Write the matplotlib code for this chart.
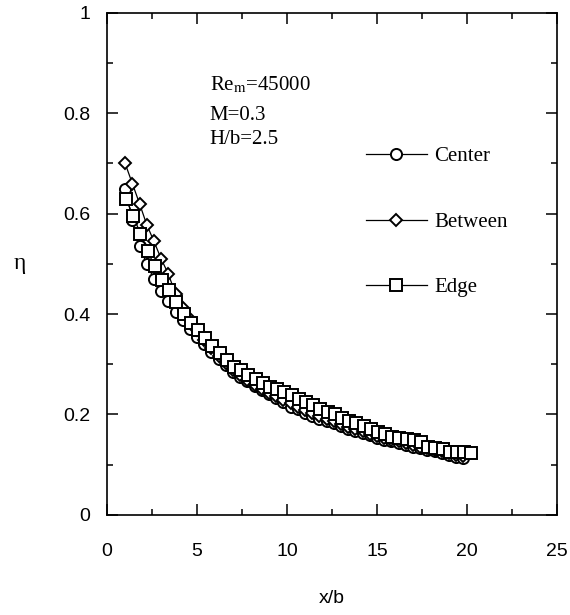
import matplotlib
matplotlib.use("Agg")
import matplotlib.pyplot as plt
from matplotlib.ticker import MultipleLocator

# x/b positions of the measured points
x_cb = [1.0, 1.4, 1.8, 2.2, 2.6, 3.0, 3.4, 3.8, 4.2, 4.6, 5.0, 5.4, 5.8, 6.2,
        6.6, 7.0, 7.4, 7.8, 8.2, 8.6, 9.0, 9.4, 9.8, 10.2, 10.6, 11.0, 11.4,
        11.8, 12.2, 12.6, 13.0, 13.4, 13.8, 14.2, 14.6, 15.0, 15.4, 15.8,
        16.2, 16.6, 17.0, 17.4, 17.8, 18.2, 18.6, 19.0, 19.4, 19.8]
x_edge = [1.05, 1.45, 1.85, 2.25, 2.65, 3.05, 3.45, 3.85, 4.25, 4.65, 5.05,
          5.45, 5.85, 6.25, 6.65, 7.05, 7.45, 7.85, 8.25, 8.65, 9.05, 9.45,
          9.85, 10.25, 10.65, 11.05, 11.45, 11.85, 12.25, 12.65, 13.05, 13.45,
          13.85, 14.25, 14.65, 15.05, 15.45, 15.85, 16.25, 16.65, 17.05,
          17.45, 17.85, 18.25, 18.65, 19.05, 19.45, 19.85, 20.2]

eta_center = [0.650, 0.588, 0.535, 0.500, 0.470, 0.445, 0.425, 0.405, 0.388,
              0.370, 0.355, 0.340, 0.325, 0.310, 0.298, 0.285, 0.275, 0.266,
              0.257, 0.248, 0.240, 0.232, 0.224, 0.215, 0.210, 0.203, 0.197,
              0.190, 0.186, 0.182, 0.176, 0.170, 0.166, 0.162, 0.158, 0.153,
              0.149, 0.146, 0.142, 0.139, 0.136, 0.133, 0.130, 0.127, 0.123,
              0.119, 0.115, 0.114]
eta_between = [0.700, 0.660, 0.620, 0.578, 0.545, 0.510, 0.480, 0.440, 0.412,
               0.390, 0.368, 0.348, 0.332, 0.316, 0.302, 0.288, 0.278, 0.268,
               0.259, 0.250, 0.243, 0.236, 0.228, 0.222, 0.215, 0.208, 0.202,
               0.196, 0.190, 0.186, 0.180, 0.175, 0.170, 0.166, 0.161, 0.157,
               0.153, 0.149, 0.146, 0.142, 0.139, 0.136, 0.133, 0.130, 0.127,
               0.124, 0.120, 0.118]
eta_edge = [0.630, 0.595, 0.560, 0.525, 0.495, 0.468, 0.447, 0.423, 0.400,
            0.383, 0.368, 0.352, 0.337, 0.322, 0.308, 0.295, 0.288, 0.279,
            0.270, 0.262, 0.255, 0.250, 0.245, 0.238, 0.230, 0.224, 0.218,
            0.211, 0.205, 0.200, 0.192, 0.186, 0.182, 0.176, 0.170, 0.165,
            0.160, 0.155, 0.152, 0.150, 0.148, 0.145, 0.136, 0.133, 0.131,
            0.126, 0.125, 0.125, 0.124]

x_ticks = [0, 5, 10, 15, 20, 25]
x_labels = ["0", "5", "10", "15", "20", "25"]
y_ticks = [0, 0.2, 0.4, 0.6, 0.8, 1.0]
y_labels = ["0", "0.2", "0.4", "0.6", "0.8", "1"]

serif = ["Liberation Serif", "DejaVu Serif"]
sans = ["Liberation Sans", "DejaVu Sans"]
plt.rcParams["font.family"] = sans
plt.rcParams["mathtext.fontset"] = "stix"

fig = plt.figure(figsize=(5.7, 6.15), dpi=100)
ax = fig.add_axes([0.188, 0.163, 0.789, 0.816])

style = dict(color="black", lw=0.9, mfc="white", mec="black", mew=1.4)
ax.plot(x_cb, eta_center, marker="o", ms=8, label="Center", **style)
ax.plot(x_cb, eta_between, marker="D", ms=6.5, label="Between", **style)
ax.plot(x_edge, eta_edge, marker="s", ms=8.5, label="Edge", **style)

ax.set_xlim(0, 25)
ax.set_ylim(0, 1)
ax.set_xticks(x_ticks)
ax.set_xticklabels(x_labels)
ax.set_yticks(y_ticks)
ax.set_yticklabels(y_labels)
ax.xaxis.set_minor_locator(MultipleLocator(2.5))
ax.yaxis.set_minor_locator(MultipleLocator(0.1))
ax.tick_params(which="both", direction="in", top=True, right=True,
               width=1.1, labelsize=14)
ax.tick_params(which="major", length=8)
ax.tick_params(which="minor", length=4)
ax.tick_params(axis="x", which="major", pad=20)
ax.tick_params(axis="y", which="major", pad=12)
for s in ax.spines.values():
    s.set_linewidth(1.2)

ax.set_xlabel("x/b", fontsize=14, labelpad=22)
ax.set_ylabel("η", fontsize=17, family=serif, rotation=0, labelpad=31,
              va="center")

# run conditions
ax.text(5.7, 0.857, "Re$_{\\mathrm{m}}$=45000", fontsize=15, family=serif,
        va="center", ha="left")
ax.text(5.7, 0.795, "M=0.3", fontsize=15, family=serif, va="center",
        ha="left")
ax.text(5.7, 0.747, "H/b=2.5", fontsize=15, family=serif, va="center",
        ha="left")

ax.legend(loc="upper left", bbox_to_anchor=(14.4, 0.733),
          bbox_transform=ax.transData, frameon=False,
          prop={"family": serif, "size": 15}, handlelength=2.9,
          handletextpad=0.35, labelspacing=2.2, borderpad=0,
          borderaxespad=0, numpoints=1)

fig.savefig("out.png", dpi=100)
